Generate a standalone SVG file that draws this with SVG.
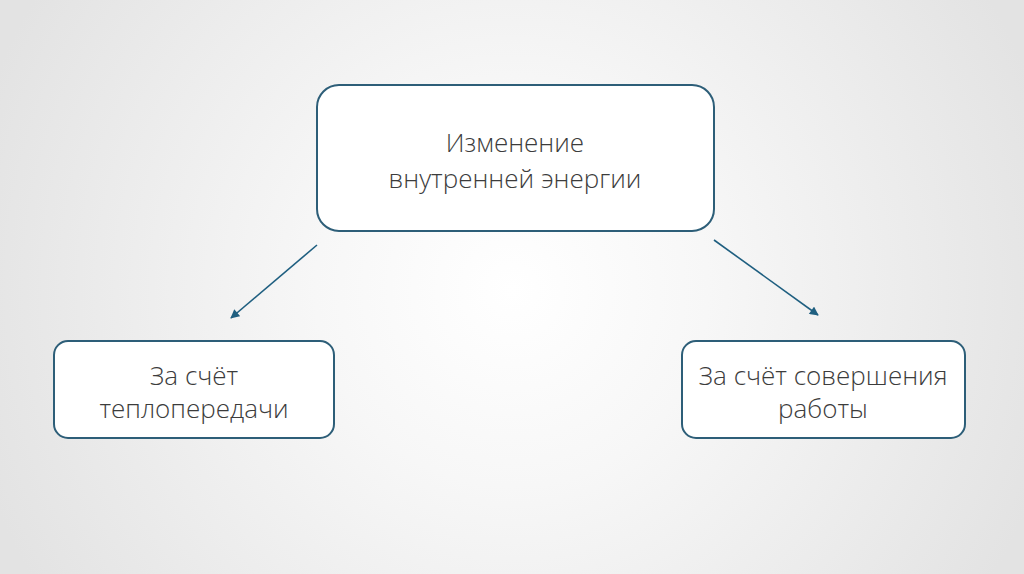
<svg xmlns="http://www.w3.org/2000/svg" width="1024" height="574" viewBox="0 0 1024 574">
<defs>
<radialGradient id="bg" cx="512" cy="290" r="560" gradientUnits="userSpaceOnUse">
<stop offset="0" stop-color="#ffffff"/>
<stop offset="0.35" stop-color="#f7f7f7"/>
<stop offset="1" stop-color="#e3e3e3"/>
</radialGradient>
<marker id="ah" viewBox="0 0 10 10" refX="9" refY="5" markerWidth="10" markerHeight="9" orient="auto" markerUnits="userSpaceOnUse">
<path d="M0,0 L10,5 L0,10 z" fill="#1f5f80"/>
</marker>
<style>
.box{fill:#ffffff;stroke:#2d5e78;stroke-width:2}
.t{font-family:"Open Sans","Noto Sans","DejaVu Sans",sans-serif;font-weight:300;font-size:26px;fill:#3c3c3c;text-anchor:middle}
.c{stroke:#1f5f80;stroke-width:1.6;fill:none;marker-end:url(#ah)}
</style>
</defs>
<rect width="1024" height="574" fill="url(#bg)"/>
<g id="node-main">
<rect class="box" x="317" y="85" width="397" height="146" rx="22"/>
<text class="t" x="515" y="152">Изменение</text>
<text class="t" x="515" y="188">внутренней энергии</text>
</g>
<g id="node-left">
<rect class="box" x="54" y="341" width="280" height="97" rx="14"/>
<text class="t" x="194" y="385">За счёт</text>
<text class="t" x="194" y="418">теплопередачи</text>
</g>
<g id="node-right">
<rect class="box" x="682" y="341" width="283" height="97" rx="14"/>
<text class="t" x="823" y="385">За счёт совершения</text>
<text class="t" x="823" y="418">работы</text>
</g>
<g id="connectors">
<path class="c" d="M317,245 L231,318"/>
<path class="c" d="M714,240 L818,315"/>
</g>
</svg>
